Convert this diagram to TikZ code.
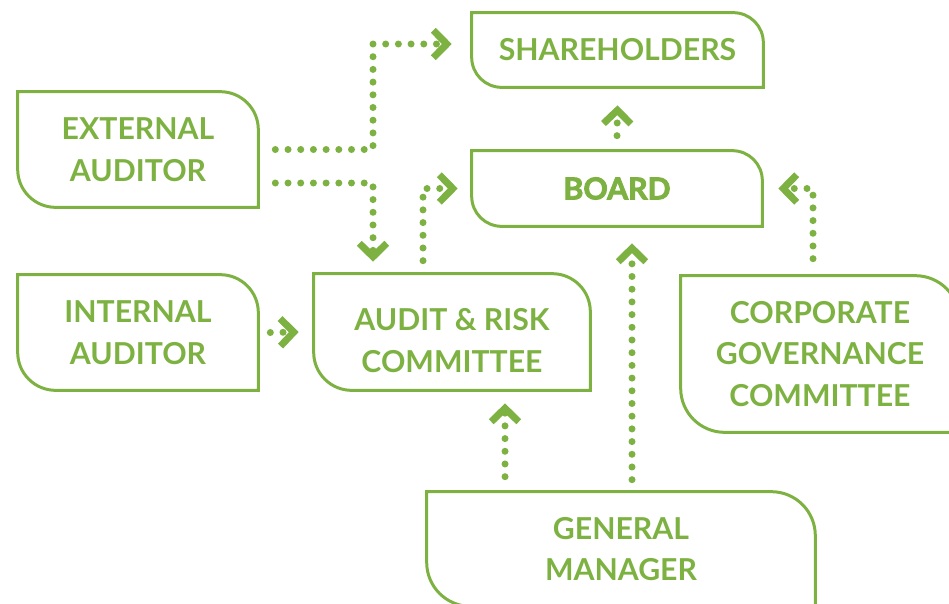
\documentclass[tikz,border=0pt]{standalone}
\usepackage{fontspec}
\setmainfont{Lato}
\newfontfamily\boardfont{Lato}[BoldFeatures={FakeBold=3}]
\usetikzlibrary{arrows.meta}
\definecolor{leaf}{RGB}{125,178,66}

\begin{document}
\begin{tikzpicture}[x=.02cm,y=.02cm,
		panel/.style={inner sep=0pt,text=leaf,align=center,font=\fontsize{17.2}{23.6}\selectfont\bfseries},
		link/.style={leaf,line width=.14cm,line cap=round,dash pattern=on 0pt off .254cm,
			-{Straight Barb[sharp,length=.27cm,width=.55cm,line width=.14cm]}}]
	\useasboundingbox (0,0) rectangle (949,-603);

	\node[panel,minimum width=5.82cm,minimum height=1.48cm] (share) at (617.5,-50) {SHAREHOLDERS};
	\node[panel,minimum width=5.8cm,minimum height=1.5cm] (board) at (617,-188.5) {\boardfont\bfseries BOARD};
	\node[panel,minimum width=4.8cm,minimum height=2.3cm] (ext) at (138,-149.5) {EXTERNAL\\AUDITOR};
	\node[panel,minimum width=4.8cm,minimum height=2.3cm] (int) at (138,-332.5) {INTERNAL\\AUDITOR};
	\node[panel,minimum width=5.52cm,minimum height=2.32cm] (audit) at (452,-332) {\rule{0pt}{.78cm}AUDIT \& RISK\\COMMITTEE};
	\node[panel,minimum width=5.56cm,minimum height=3.12cm] (corp) at (820,-354) {CORPORATE\\GOVERNANCE\\COMMITTEE};
	\node[panel,minimum width=7.76cm,minimum height=2.28cm] (gm) at (621,-549) {GENERAL\\MANAGER};

	% outlines: rounded top right and bottom left
	\foreach \n/\r in {share/30,board/30,ext/38,int/38,audit/38,corp/44,gm/44}
		\draw[leaf,line width=.06cm] (\n.north west) -- ([xshift=-\r*.02cm]\n.north east)
			arc[start angle=90,end angle=0,radius=\r*.02cm] -- (\n.south east)
			-- ([xshift=\r*.02cm]\n.south west) arc[start angle=270,end angle=180,radius=\r*.02cm] -- cycle;

	\coordinate (upbend) at (373,-44);
	\draw[link] ([xshift=.34cm]ext.east) -| (upbend) -- ([xshift=-.4cm,yshift=.12cm]share.west);
	\draw[link] ([xshift=.34cm,yshift=-.67cm]ext.east) -| ([xshift=-1.58cm,yshift=.24cm]audit.north);
	\draw[link] ([xshift=-.58cm,yshift=.26cm]audit.north) |- ([xshift=-.28cm]board.west);
	\draw[link] ([xshift=.24cm]int.east) -- ([xshift=-.3cm]audit.west);
	\draw[link] ([yshift=.3cm]board.north) -- ([yshift=-.36cm]share.south);
	\draw[link] ([xshift=.22cm,yshift=.24cm]gm.north) -- ([xshift=.3cm,yshift=-.34cm]board.south);
	\draw[link] ([xshift=-2.32cm,yshift=.3cm]gm.north) -- ([xshift=1.06cm,yshift=-.26cm]audit.south);
	\draw[link] ([xshift=-.14cm,yshift=.34cm]corp.north) |- ([xshift=.32cm]board.east);
\end{tikzpicture}
\end{document}
